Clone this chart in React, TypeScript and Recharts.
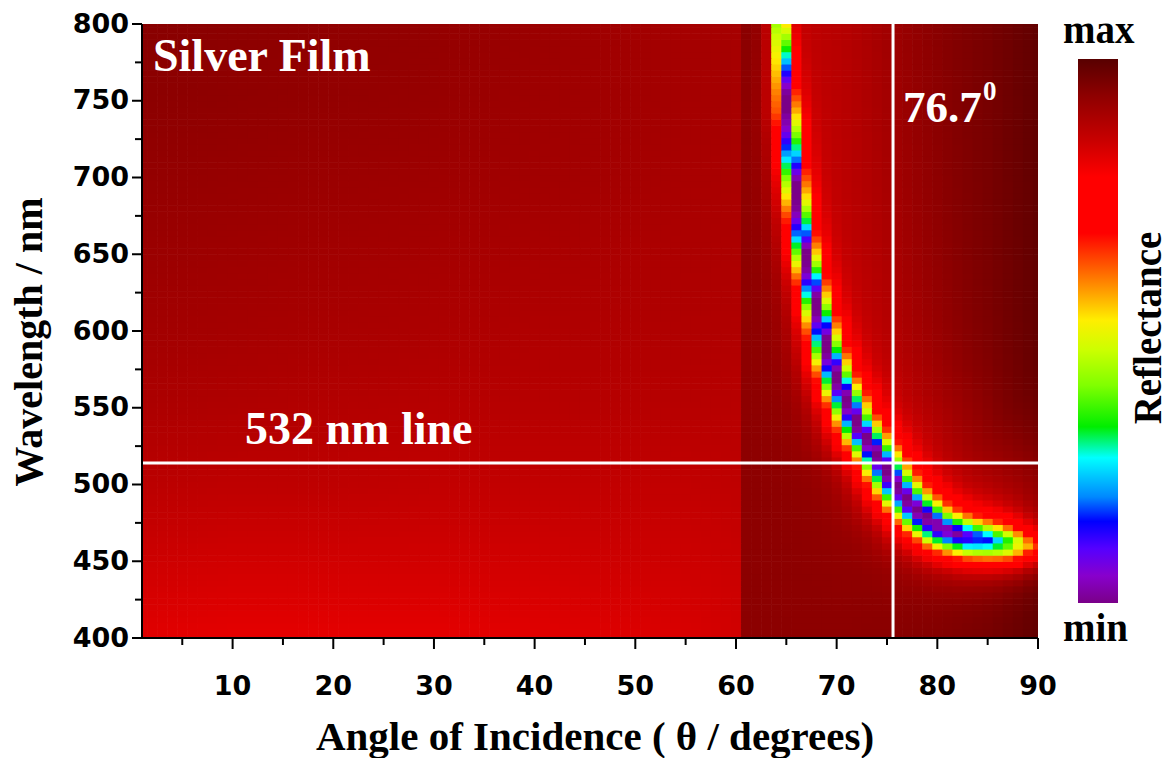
import { ScatterChart, Scatter, XAxis, YAxis } from 'recharts';

// grid of the reflectance map (columns = angle, rows = wavelength)
const angles = [
  1, 2, 3, 4, 5, 6, 7, 8, 9, 10, 11, 12, 13, 14, 15, 16, 17, 18, 19, 20, 21, 22, 23, 24, 25, 26, 27, 28, 29, 30,
  31, 32, 33, 34, 35, 36, 37, 38, 39, 40, 41, 42, 43, 44, 45, 46, 47, 48, 49, 50, 51, 52, 53, 54, 55, 56, 57, 58, 59, 60,
  61, 62, 63, 64, 65, 66, 67, 68, 69, 70, 71, 72, 73, 74, 75, 76, 77, 78, 79, 80, 81, 82, 83, 84, 85, 86, 87, 88, 89, 90,
];
const wavelengths = [
  400, 404, 408, 412, 416, 420, 424, 428, 432, 436, 440, 444, 448, 452, 456, 460, 464, 468, 472, 476, 480, 484, 488, 492,
  496, 500, 504, 508, 512, 516, 520, 524, 528, 532, 536, 540, 544, 548, 552, 556, 560, 564, 568, 572, 576, 580, 584, 588,
  592, 596, 600, 604, 608, 612, 616, 620, 624, 628, 632, 636, 640, 644, 648, 652, 656, 660, 664, 668, 672, 676, 680, 684,
  688, 692, 696, 700, 704, 708, 712, 716, 720, 724, 728, 732, 736, 740, 744, 748, 752, 756, 760, 764, 768, 772, 776, 780,
  784, 788, 792, 796, 800,
];

const xMajorTicks = [10, 20, 30, 40, 50, 60, 70, 80, 90];
const xMinorTicks = [5, 15, 25, 35, 45, 55, 65, 75, 85];
const yMajorTicks = [400, 450, 500, 550, 600, 650, 700, 750, 800];
const yMinorTicks = [425, 475, 525, 575, 625, 675, 725, 775];

// plasmon reflectance minimum
const dipAngle = [
  64.4, 64.7, 65.0, 65.5, 66.0, 66.5, 67.0, 68.0, 69.0, 70.0, 71.0, 72.0, 73.0, 74.0, 75.0,
  76.0, 77.0, 78.0, 79.0, 80.0, 81.0, 82.0, 83.0, 84.0, 85.0, 86.0, 87.0, 88.0, 89.0, 90.0,
];
const dipWavelength = [
  800, 770, 743, 712, 684, 662, 644, 614, 587, 567, 553, 538, 528, 518, 507,
  497, 489, 482, 477, 472, 469, 467, 465, 464, 463, 462, 461, 460, 459.5, 459,
];
// half width of the dip (screen px) and its depth on the colour scale
const dipWidth = [
  6, 7, 8, 8.5, 9, 9.5, 10, 11, 12.5, 13.5, 14.5, 15, 15.5, 16, 16.5,
  17, 17, 17.5, 17.5, 17.5, 17.5, 17.5, 17.5, 17.5, 17.5, 17.5, 17.5, 17.5, 17.5, 17.5,
];
const dipDepth = [
  0.75, 0.85, 0.92, 0.93, 0.93, 0.93, 0.93, 0.93, 0.93, 0.93, 0.93, 0.93, 0.93, 0.93, 0.93,
  0.93, 0.93, 0.93, 0.93, 0.92, 0.9, 0.88, 0.84, 0.8, 0.75, 0.68, 0.6, 0.48, 0.36, 0.28,
];

// background level (0 = min, 1 = max) read on a coarse grid
const bgAngles = [1, 10, 20, 30, 40, 50, 55, 60, 61, 65, 70, 75, 80, 85, 90];
const bgWavelengths = [400, 450, 500, 550, 600, 650, 700, 750, 800];
const bgLevels = [
  [0.82, 0.815, 0.815, 0.815, 0.82, 0.825, 0.83, 0.84, 0.935, 0.935, 0.935, 0.94, 0.95, 0.965, 0.99],
  [0.845, 0.84, 0.84, 0.84, 0.84, 0.845, 0.845, 0.85, 0.935, 0.935, 0.935, 0.94, 0.95, 0.965, 0.99],
  [0.87, 0.865, 0.865, 0.86, 0.86, 0.86, 0.86, 0.865, 0.935, 0.935, 0.935, 0.94, 0.95, 0.965, 0.99],
  [0.89, 0.885, 0.88, 0.875, 0.875, 0.875, 0.875, 0.875, 0.935, 0.935, 0.935, 0.94, 0.95, 0.965, 0.99],
  [0.905, 0.9, 0.895, 0.89, 0.885, 0.885, 0.885, 0.885, 0.935, 0.935, 0.935, 0.94, 0.95, 0.965, 0.99],
  [0.915, 0.91, 0.905, 0.9, 0.895, 0.89, 0.89, 0.89, 0.935, 0.935, 0.935, 0.94, 0.95, 0.965, 0.99],
  [0.925, 0.92, 0.915, 0.91, 0.905, 0.9, 0.895, 0.895, 0.935, 0.935, 0.935, 0.94, 0.95, 0.965, 0.99],
  [0.935, 0.93, 0.925, 0.92, 0.91, 0.905, 0.9, 0.9, 0.94, 0.935, 0.935, 0.94, 0.95, 0.965, 0.99],
  [0.94, 0.935, 0.93, 0.925, 0.915, 0.905, 0.9, 0.9, 0.94, 0.935, 0.935, 0.94, 0.95, 0.965, 0.99],
];

// colour scale, bottom (min) to top (max)
const scaleStops = [0, 0.05, 0.1, 0.15, 0.195, 0.267, 0.324, 0.4, 0.465, 0.52, 0.575, 0.618, 0.68, 0.783, 0.851, 0.93, 1];
const scaleColors = [
  '#7a0088', '#8800cc', '#5500ff', '#0000ff', '#0088ff', '#00ffff', '#00ee00', '#80ff00', '#ccff00',
  '#ffee00', '#ff9a00', '#ff5a00', '#ff0000', '#ff0000', '#c80000', '#900000', '#580000',
];

// white marker lines (as drawn on the map)
const markers = [{ a: 75.6, w: 514 }];

const PLOT = { left: 142, right: 1038, top: 24, bottom: 638 };
const PX_DEG = (PLOT.right - PLOT.left) / 89;
const PX_NM = (PLOT.bottom - PLOT.top) / 400;
const CELL_H = 4 * PX_NM;

const SERIF = '"Liberation Serif", "Times New Roman", serif';
const SANS = '"DejaVu Sans", Verdana, sans-serif';

const rgb = (c: string) => [1, 3, 5].map((i) => parseInt(c.slice(i, i + 2), 16));

const colorFor = (v: number) => {
  let i = 0;
  while (i < scaleStops.length - 2 && v > scaleStops[i + 1]) i++;
  const t = Math.min(1, Math.max(0, (v - scaleStops[i]) / (scaleStops[i + 1] - scaleStops[i])));
  const a = rgb(scaleColors[i]);
  const b = rgb(scaleColors[i + 1]);
  const m = a.map((c, k) => Math.round(c + (b[k] - c) * t));
  return `rgb(${m[0]},${m[1]},${m[2]})`;
};

const locate = (xs: number[], x: number): [number, number] => {
  for (let i = 0; i < xs.length - 1; i++) {
    if (x <= xs[i + 1]) return [i, Math.max(0, (x - xs[i]) / (xs[i + 1] - xs[i]))];
  }
  return [xs.length - 2, 1];
};

const background = (a: number, w: number) => {
  const [i, ti] = locate(bgAngles, a);
  const [j, tj] = locate(bgWavelengths, w);
  const r0 = bgLevels[j][i] * (1 - ti) + bgLevels[j][i + 1] * ti;
  const r1 = bgLevels[j + 1][i] * (1 - ti) + bgLevels[j + 1][i + 1] * ti;
  return r0 * (1 - tj) + r1 * tj;
};

// nearest point of the traced minimum, in screen pixels
const nearestDip = (a: number, w: number) => {
  const px = a * PX_DEG;
  const py = w * PX_NM;
  let best = Infinity;
  let width = dipWidth[0];
  let depth = dipDepth[0];
  for (let i = 0; i < dipAngle.length - 1; i++) {
    const x0 = dipAngle[i] * PX_DEG;
    const y0 = dipWavelength[i] * PX_NM;
    const dx = dipAngle[i + 1] * PX_DEG - x0;
    const dy = dipWavelength[i + 1] * PX_NM - y0;
    const t = Math.min(1, Math.max(0, ((px - x0) * dx + (py - y0) * dy) / (dx * dx + dy * dy)));
    const d = Math.hypot(x0 + t * dx - px, y0 + t * dy - py);
    if (d < best) {
      best = d;
      width = dipWidth[i] * (1 - t) + dipWidth[i + 1] * t;
      depth = dipDepth[i] * (1 - t) + dipDepth[i + 1] * t;
    }
  }
  return { d: best, width, depth };
};

const dipAngleAt = (w: number) => {
  for (let i = 0; i < dipWavelength.length - 1; i++) {
    const hi = dipWavelength[i];
    const lo = dipWavelength[i + 1];
    if (w <= hi && w >= lo) return dipAngle[i] + ((hi - w) / (hi - lo)) * (dipAngle[i + 1] - dipAngle[i]);
  }
  return null;
};

const level = (a: number, w: number) => {
  const { d, width, depth } = nearestDip(a, w);
  const x = d / width;
  let v = background(a, w) - depth / (1 + x * x + 0.15 * x ** 4);
  const ca = dipAngleAt(w);
  if (ca !== null && a > ca) v -= 0.065 / (1 + (d / 110) ** 4);
  return Math.min(1, Math.max(0, v));
};

const cells = wavelengths.flatMap((w) => angles.map((a) => ({ a, w, fill: colorFor(level(a, w)) })));

const HeatCell = (props: any) => {
  const { cx, cy, payload } = props;
  const x0 = Math.max(cx - PX_DEG / 2, PLOT.left + 1);
  const x1 = Math.min(cx + PX_DEG / 2 + 0.6, PLOT.right);
  const y0 = Math.max(cy - CELL_H / 2, PLOT.top);
  const y1 = Math.min(cy + CELL_H / 2 + 0.6, PLOT.bottom - 1);
  if (x1 <= x0 || y1 <= y0) return <g />;
  return <rect x={x0} y={y0} width={x1 - x0} height={y1 - y0} fill={payload.fill} />;
};

// white cross-hair and in-map labels, drawn above the map
const MarkerShape = (props: any) => {
  const { cx, cy } = props;
  return (
    <g>
      <line x1={PLOT.left + 1} x2={PLOT.right} y1={cy} y2={cy} stroke="#fff" strokeWidth={3} />
      <line x1={cx} x2={cx} y1={PLOT.top} y2={PLOT.bottom - 1} stroke="#fff" strokeWidth={3} />
      <text x={153} y={71} fontFamily={SERIF} fontWeight="bold" fontSize={46} fill="#fff">
        Silver Film
      </text>
      <text x={245} y={cy - 19} fontFamily={SERIF} fontWeight="bold" fontSize={46} fill="#fff">
        532 nm line
      </text>
      <text x={cx + 10} y={122} fontFamily={SERIF} fontWeight="bold" fontSize={45} fill="#fff">
        76.7
      </text>
      <text x={cx + 90} y={100} fontFamily={SERIF} fontWeight="bold" fontSize={27} fill="#fff">
        0
      </text>
    </g>
  );
};

const XTick = (props: any) => {
  const { x, payload } = props;
  const major = xMajorTicks.includes(payload.value);
  return (
    <g>
      <line x1={x} x2={x} y1={PLOT.bottom} y2={PLOT.bottom + (major ? 11 : 7)} stroke="#000" strokeWidth={2} />
      {major && (
        <text x={x} y={695} textAnchor="middle" fontFamily={SANS} fontWeight="bold" fontSize={27} fill="#000">
          {payload.value}
        </text>
      )}
    </g>
  );
};

const YTick = (props: any) => {
  const { y, payload } = props;
  const major = yMajorTicks.includes(payload.value);
  return (
    <g>
      <line x1={PLOT.left - (major ? 10 : 7)} x2={PLOT.left} y1={y} y2={y} stroke="#000" strokeWidth={2} />
      {major && (
        <text x={PLOT.left - 13} y={y + 8.5} textAnchor="end" fontFamily={SANS} fontWeight="bold" fontSize={27} fill="#000">
          {payload.value}
        </text>
      )}
    </g>
  );
};

export default function App() {
  return (
    <div style={{ position: 'absolute', left: 0, top: 0, background: '#fff' }}>
      <ScatterChart width={1172} height={758} margin={{ top: PLOT.top, right: 1172 - PLOT.right, bottom: 60, left: 0 }}>
        <defs>
          <linearGradient id="reflectanceScale" x1="0" y1="1" x2="0" y2="0">
            {scaleStops.map((s, i) => (
              <stop key={i} offset={s} stopColor={scaleColors[i]} />
            ))}
          </linearGradient>
        </defs>
        <XAxis
          dataKey="a"
          type="number"
          domain={[1, 90]}
          ticks={[...xMinorTicks, ...xMajorTicks].sort((p, q) => p - q)}
          interval={0}
          height={60}
          tickLine={false}
          axisLine={{ stroke: '#000', strokeWidth: 2 }}
          tick={<XTick />}
        />
        <YAxis
          dataKey="w"
          type="number"
          domain={[400, 800]}
          ticks={[...yMinorTicks, ...yMajorTicks].sort((p, q) => p - q)}
          interval={0}
          width={PLOT.left}
          tickLine={false}
          axisLine={{ stroke: '#000', strokeWidth: 2 }}
          tick={<YTick />}
        />
        <Scatter data={cells} shape={<HeatCell />} isAnimationActive={false} />
        <Scatter data={markers} shape={<MarkerShape />} isAnimationActive={false} />

        <rect x={1078} y={59} width={40} height={544} fill="url(#reflectanceScale)" />
        <text x={1063} y={43} fontFamily={SERIF} fontWeight="bold" fontSize={39} fill="#000">
          max
        </text>
        <text x={1063} y={641} fontFamily={SERIF} fontWeight="bold" fontSize={39} fill="#000">
          min
        </text>
        <text
          transform="translate(1161, 328) rotate(-90)"
          textAnchor="middle"
          fontFamily={SERIF}
          fontWeight="bold"
          fontSize={39}
          fill="#000"
        >
          Reflectance
        </text>
        <text
          transform="translate(42, 342) rotate(-90)"
          textAnchor="middle"
          fontFamily={SERIF}
          fontWeight="bold"
          fontSize={40}
          fill="#000"
        >
          Wavelength / nm
        </text>
        <text x={595} y={750} textAnchor="middle" fontFamily={SERIF} fontWeight="bold" fontSize={41} fill="#000">
          Angle of Incidence ( θ / degrees)
        </text>
      </ScatterChart>
    </div>
  );
}
